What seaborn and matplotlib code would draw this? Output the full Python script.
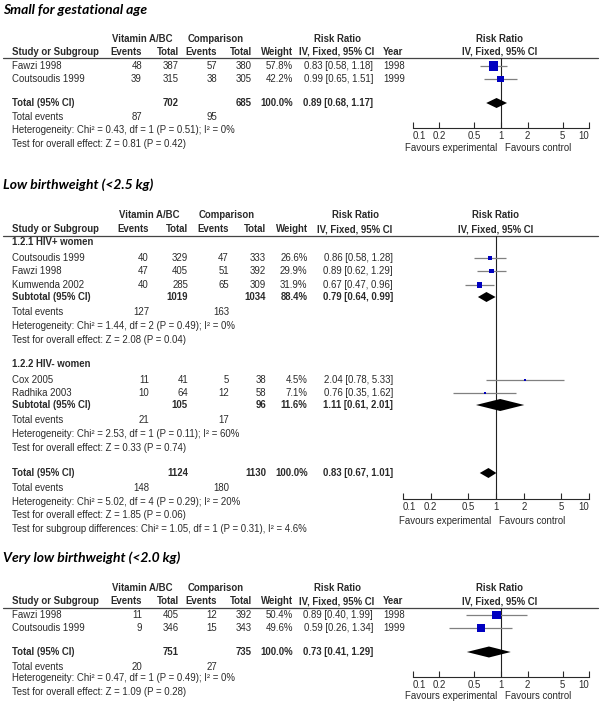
import numpy as np
import pandas as pd
import matplotlib
matplotlib.use("Agg")
import matplotlib.pyplot as plt
import seaborn as sns

sns.set_theme(style="white")
plt.rcParams["font.family"] = ["Liberation Sans", "DejaVu Sans"]

# ---------------- data ----------------
# Panel 1: Small for gestational age
sga_study = ["Fawzi 1998", "Coutsoudis 1999"]
sga_exp_ev = [48, 39]
sga_exp_n = [387, 315]
sga_ctl_ev = [57, 38]
sga_ctl_n = [380, 305]
sga_weight = [57.8, 42.2]
sga_rr = [0.83, 0.99]
sga_lo = [0.58, 0.65]
sga_hi = [1.18, 1.51]
sga_year = [1998, 1999]
sga_total = dict(exp_n=702, ctl_n=685, exp_ev=87, ctl_ev=95, rr=0.89, lo=0.68, hi=1.17,
                 het="Heterogeneity: Chi² = 0.43, df = 1 (P = 0.51); I² = 0%",
                 test="Test for overall effect: Z = 0.81 (P = 0.42)")

# Panel 2: Low birthweight (<2.5 kg)
lbw1_study = ["Coutsoudis 1999", "Fawzi 1998", "Kumwenda 2002"]
lbw1_exp_ev = [40, 47, 40]
lbw1_exp_n = [329, 405, 285]
lbw1_ctl_ev = [47, 51, 65]
lbw1_ctl_n = [333, 392, 309]
lbw1_weight = [26.6, 29.9, 31.9]
lbw1_rr = [0.86, 0.89, 0.67]
lbw1_lo = [0.58, 0.62, 0.47]
lbw1_hi = [1.28, 1.29, 0.96]
lbw1_sub = dict(exp_n=1019, ctl_n=1034, w="88.4%", exp_ev=127, ctl_ev=163, rr=0.79, lo=0.64, hi=0.99,
                het="Heterogeneity: Chi² = 1.44, df = 2 (P = 0.49); I² = 0%",
                test="Test for overall effect: Z = 2.08 (P = 0.04)")
lbw2_study = ["Cox 2005", "Radhika 2003"]
lbw2_exp_ev = [11, 10]
lbw2_exp_n = [41, 64]
lbw2_ctl_ev = [5, 12]
lbw2_ctl_n = [38, 58]
lbw2_weight = [4.5, 7.1]
lbw2_rr = [2.04, 0.76]
lbw2_lo = [0.78, 0.35]
lbw2_hi = [5.33, 1.62]
lbw2_sub = dict(exp_n=105, ctl_n=96, w="11.6%", exp_ev=21, ctl_ev=17, rr=1.11, lo=0.61, hi=2.01,
                het="Heterogeneity: Chi² = 2.53, df = 1 (P = 0.11); I² = 60%",
                test="Test for overall effect: Z = 0.33 (P = 0.74)")
lbw_total = dict(exp_n=1124, ctl_n=1130, w="100.0%", exp_ev=148, ctl_ev=180, rr=0.83, lo=0.67, hi=1.01,
                 het="Heterogeneity: Chi² = 5.02, df = 4 (P = 0.29); I² = 20%",
                 test="Test for overall effect: Z = 1.85 (P = 0.06)",
                 diff="Test for subgroup differences: Chi² = 1.05, df = 1 (P = 0.31), I² = 4.6%")

# Panel 3: Very low birthweight (<2.0 kg)
vlbw_study = ["Fawzi 1998", "Coutsoudis 1999"]
vlbw_exp_ev = [11, 9]
vlbw_exp_n = [405, 346]
vlbw_ctl_ev = [12, 15]
vlbw_ctl_n = [392, 343]
vlbw_weight = [50.4, 49.6]
vlbw_rr = [0.89, 0.59]
vlbw_lo = [0.40, 0.26]
vlbw_hi = [1.99, 1.34]
vlbw_year = [1998, 1999]
vlbw_total = dict(exp_n=751, ctl_n=735, exp_ev=20, ctl_ev=27, rr=0.73, lo=0.41, hi=1.29,
                  het="Heterogeneity: Chi² = 0.47, df = 1 (P = 0.49); I² = 0%",
                  test="Test for overall effect: Z = 1.09 (P = 0.28)")

tick_vals = [0.1, 0.2, 0.5, 1, 2, 5, 10]
tick_labels = ["0.1", "0.2", "0.5", "1", "2", "5", "10"]

# ---------------- layout / style ----------------
W, H = 602, 706
TXT = "#2a2a2a"
FS = 6.9
BLUE = "#0000C0"
CI_COL = "#808080"

fig = plt.figure(figsize=(W / 100, H / 100), dpi=100)
fig.patch.set_facecolor("white")
bg = fig.add_axes([0, 0, 1, 1])
bg.set_xlim(0, W)
bg.set_ylim(H, 0)
bg.axis("off")


def t(x, y, s, ha="left", bold=False, **kw):
    bg.text(x, y, s, ha=ha, va="center", fontsize=FS, color=TXT,
            fontweight="bold" if bold else "normal", **kw)


def title(y, s):
    bg.text(3, y, s, ha="left", va="center", fontsize=10, color="black",
            family="Lato", fontweight="bold", fontstyle="italic")


def fmt_ci(rr, lo, hi):
    return f"{rr:.2f} [{lo:.2f}, {hi:.2f}]"


def header(c, y1, y2, yline, year=False):
    t(c["vit"], y1, "Vitamin A/BC", ha="center", bold=True)
    t(c["comp"], y1, "Comparison", ha="center", bold=True)
    t(c["rrh"], y1, "Risk Ratio", ha="center", bold=True)
    t(c["fc"], y1, "Risk Ratio", ha="center", bold=True)
    t(12, y2, "Study or Subgroup", bold=True)
    t(c["ev1"], y2, "Events", ha="right", bold=True)
    t(c["tot1"], y2, "Total", ha="right", bold=True)
    t(c["ev2"], y2, "Events", ha="right", bold=True)
    t(c["tot2"], y2, "Total", ha="right", bold=True)
    t(c["wt"], y2, "Weight", ha="right", bold=True)
    t(c["rrh"], y2, "IV, Fixed, 95% CI", ha="center", bold=True)
    if year:
        t(c["year"], y2, "Year", bold=True)
    t(c["fc"], y2, "IV, Fixed, 95% CI", ha="center", bold=True)
    bg.plot([3, 598], [yline, yline], color="#444444", lw=0.9)


def study_rows(c, ys, study, ee, en, ce, cn, w, rr, lo, hi, year=None):
    for i, y in enumerate(ys):
        t(12, y, study[i])
        t(c["ev1"], y, str(ee[i]), ha="right")
        t(c["tot1"], y, str(en[i]), ha="right")
        t(c["ev2"], y, str(ce[i]), ha="right")
        t(c["tot2"], y, str(cn[i]), ha="right")
        t(c["wt"], y, f"{w[i]:.1f}%", ha="right")
        t(c["rr"], y, fmt_ci(rr[i], lo[i], hi[i]), ha="right")
        if year is not None:
            t(c["year"], y, str(year[i]))


def summary_rows(c, d, label, y_tot, y_ev, y_het, y_test, w="100.0%"):
    t(12, y_tot, label, bold=True)
    t(c["tot1"], y_tot, str(d["exp_n"]), ha="right", bold=True)
    t(c["tot2"], y_tot, str(d["ctl_n"]), ha="right", bold=True)
    t(c["wt"], y_tot, w, ha="right", bold=True)
    t(c["rr"], y_tot, fmt_ci(d["rr"], d["lo"], d["hi"]), ha="right", bold=True)
    t(12, y_ev, "Total events")
    t(c["ev1"], y_ev, str(d["exp_ev"]), ha="right")
    t(c["ev2"], y_ev, str(d["ctl_ev"]), ha="right")
    t(12, y_het, d["het"])
    t(12, y_test, d["test"])


def forest_axes(x0, x1, ytop, ybot, fav_y, fav_split):
    ax = fig.add_axes([x0 / W, 1 - ybot / H, (x1 - x0) / W, (ybot - ytop) / H])
    ax.set_xscale("log")
    ax.set_xlim(0.1, 10)
    ax.set_ylim(ybot, ytop)
    ax.patch.set_alpha(0)
    for s in ["top", "left", "right"]:
        ax.spines[s].set_visible(False)
    ax.spines["bottom"].set_color(TXT)
    ax.spines["bottom"].set_linewidth(0.8)
    ax.set_yticks([])
    ax.minorticks_off()
    ax.set_xticks(tick_vals)
    ax.set_xticklabels(tick_labels)
    ax.xaxis.set_minor_locator(matplotlib.ticker.NullLocator())
    ax.tick_params(axis="x", direction="in", length=4, width=0.8, color=TXT,
                   labelsize=FS, labelcolor=TXT, pad=2.2, bottom=True)
    ticks = ax.xaxis.get_major_ticks()
    ticks[0].label1.set_horizontalalignment("left")
    ticks[-1].label1.set_horizontalalignment("right")
    ax.axvline(1, color="#222222", lw=0.8, zorder=1)
    ax.set_xlabel("")
    ax.set_ylabel("")
    t(fav_split - 4, fav_y, "Favours experimental", ha="right")
    t(fav_split + 4, fav_y, "Favours control", ha="left")
    return ax


def draw_studies(ax, ys, rr, lo, hi, w):
    ax.hlines(ys, lo, hi, color=CI_COL, lw=0.9, zorder=2)
    side = np.maximum(2.0, 0.16 * np.asarray(w))  # square side in px ~ weight
    df = pd.DataFrame({"rr": rr, "y": ys})
    sns.scatterplot(data=df, x="rr", y="y", marker="s", s=list((side * 0.72) ** 2),
                    color=BLUE, linewidth=0, ax=ax, legend=False, zorder=3)
    ax.set_xlabel("")
    ax.set_ylabel("")


def diamond(ax, y, rr, lo, hi, h=5):
    ax.fill([lo, rr, hi, rr], [y, y - h, y, y + h], color="black", lw=0, zorder=3)


# ---------------- Panel 1 ----------------
c13 = dict(ev1=142, tot1=179, ev2=217, tot2=252, wt=293, rr=373, year=383,
           vit=142, comp=216, rrh=337, fc=500)
title(10, "Small for gestational age")
header(c13, 39, 52, 58, year=True)
ys1 = [66, 79]
study_rows(c13, ys1, sga_study, sga_exp_ev, sga_exp_n, sga_ctl_ev, sga_ctl_n,
           sga_weight, sga_rr, sga_lo, sga_hi, sga_year)
summary_rows(c13, sga_total, "Total (95% CI)", 103, 117, 130, 144)
ax1 = forest_axes(412.7, 589.3, 58, 128, 148, 501)
draw_studies(ax1, ys1, sga_rr, sga_lo, sga_hi, sga_weight)
diamond(ax1, 103, sga_total["rr"], sga_total["lo"], sga_total["hi"])

# ---------------- Panel 2 ----------------
c2 = dict(ev1=149, tot1=188, ev2=229, tot2=266, wt=307.5, rr=393,
          vit=149, comp=227, rrh=355, fc=496)
title(185, "Low birthweight (<2.5 kg)")
header(c2, 215, 229, 236)
t(12, 242, "1.2.1 HIV+ women", bold=True)
ys2a = [258, 271, 285]
study_rows(c2, ys2a, lbw1_study, lbw1_exp_ev, lbw1_exp_n, lbw1_ctl_ev, lbw1_ctl_n,
           lbw1_weight, lbw1_rr, lbw1_lo, lbw1_hi)
summary_rows(c2, lbw1_sub, "Subtotal (95% CI)", 297, 312, 326, 340, w=lbw1_sub["w"])
t(12, 364, "1.2.2 HIV- women", bold=True)
ys2b = [380, 393]
study_rows(c2, ys2b, lbw2_study, lbw2_exp_ev, lbw2_exp_n, lbw2_ctl_ev, lbw2_ctl_n,
           lbw2_weight, lbw2_rr, lbw2_lo, lbw2_hi)
summary_rows(c2, lbw2_sub, "Subtotal (95% CI)", 405, 420, 434, 448, w=lbw2_sub["w"])
summary_rows(c2, lbw_total, "Total (95% CI)", 473, 488, 502, 515, w=lbw_total["w"])
t(12, 529, lbw_total["diff"])
ax2 = forest_axes(402.7, 589.3, 236, 499, 521, 495)
draw_studies(ax2, ys2a, lbw1_rr, lbw1_lo, lbw1_hi, lbw1_weight)
draw_studies(ax2, ys2b, lbw2_rr, lbw2_lo, lbw2_hi, lbw2_weight)
diamond(ax2, 297, lbw1_sub["rr"], lbw1_sub["lo"], lbw1_sub["hi"])
diamond(ax2, 405, lbw2_sub["rr"], lbw2_sub["lo"], lbw2_sub["hi"], h=6)
diamond(ax2, 473, lbw_total["rr"], lbw_total["lo"], lbw_total["hi"])

# ---------------- Panel 3 ----------------
title(558, "Very low birthweight (<2.0 kg)")
header(c13, 588, 601, 608, year=True)
ys3 = [615, 628]
study_rows(c13, ys3, vlbw_study, vlbw_exp_ev, vlbw_exp_n, vlbw_ctl_ev, vlbw_ctl_n,
           vlbw_weight, vlbw_rr, vlbw_lo, vlbw_hi, vlbw_year)
summary_rows(c13, vlbw_total, "Total (95% CI)", 652, 667, 678, 692)
ax3 = forest_axes(412.7, 589.3, 608, 677, 696, 501)
draw_studies(ax3, ys3, vlbw_rr, vlbw_lo, vlbw_hi, vlbw_weight)
diamond(ax3, 652, vlbw_total["rr"], vlbw_total["lo"], vlbw_total["hi"], h=5.5)

fig.savefig("out.png", dpi=100, facecolor="white")
